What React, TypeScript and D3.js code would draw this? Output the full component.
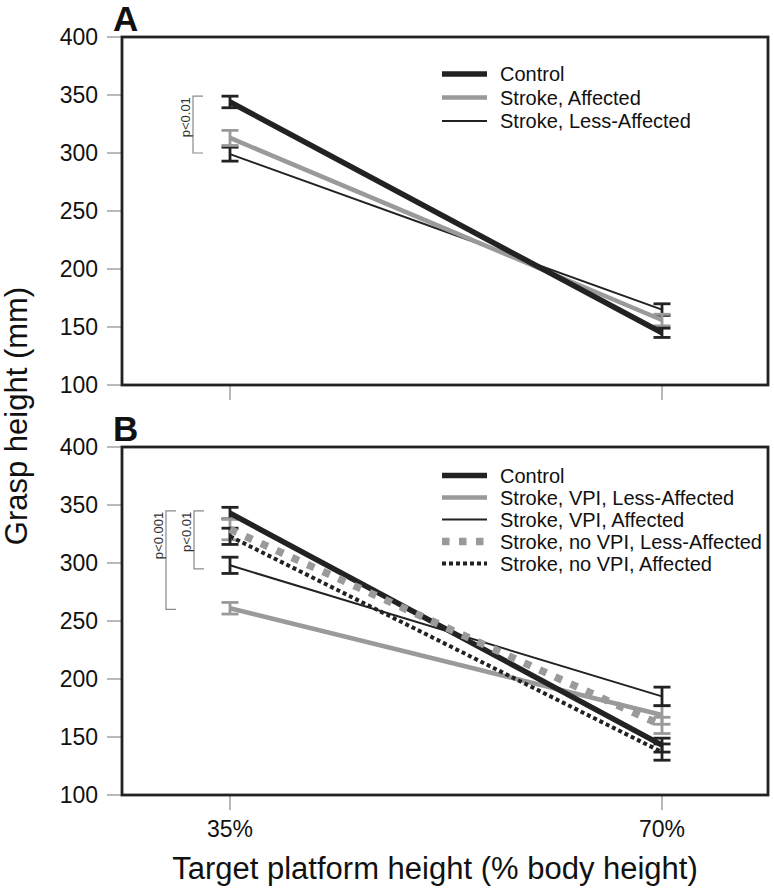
import React from "react";
import * as d3 from "d3";

// ---------- DATA ----------
const xCategories = ["35%", "70%"];
const yTicks = [100, 150, 200, 250, 300, 350, 400];

// Panel A
const aLabels = ["Control", "Stroke, Affected", "Stroke, Less-Affected"];
const aControl = [344, 145];
const aControlErr = [5, 4];
const aAffected = [313, 156];
const aAffectedErr = [6.5, 5];
const aLessAffected = [299, 165];
const aLessAffectedErr = [6, 5];

// Panel B
const bLabels = [
  "Control",
  "Stroke, VPI, Less-Affected",
  "Stroke, VPI, Affected",
  "Stroke, no VPI, Less-Affected",
  "Stroke, no VPI, Affected",
];
const bControl = [343, 143];
const bControlErr = [5, 6];
const bVpiLess = [261, 169];
const bVpiLessErr = [5, 8];
const bVpiAff = [298, 185];
const bVpiAffErr = [7, 8];
const bNoVpiLess = [329, 160];
const bNoVpiLessErr = [9, 7];
const bNoVpiAff = [323, 137];
const bNoVpiAffErr = [7, 7];

// significance brackets: [top value, bottom value, label]
const aBrackets: [number, number, string][] = [[349, 300, "p<0.01"]];
const bBrackets: [number, number, string][] = [
  [345, 260, "p<0.001"],
  [345, 295, "p<0.01"],
];

// ---------- STYLES ----------
const FONT = "'Liberation Sans', Arial, Helvetica, sans-serif";
const DARK = "#222";
const GREY = "#9a9a9a";
const TICK = "#8a8a8a";

type Style = { color: string; width: number; dash?: string; errColor: string };
const sControl: Style = { color: DARK, width: 5.5, errColor: DARK };
const sGrey: Style = { color: GREY, width: 4.5, errColor: GREY };
const sThin: Style = { color: DARK, width: 2, errColor: DARK };
const sGreyDot: Style = { color: GREY, width: 7.5, dash: "7.5 9.5", errColor: GREY };
const sBlackDot: Style = { color: DARK, width: 4, dash: "4 3", errColor: DARK };

type Series = { label: string; values: number[]; err: number[]; style: Style };

const panelASeries: Series[] = [
  { label: aLabels[2], values: aLessAffected, err: aLessAffectedErr, style: sThin },
  { label: aLabels[1], values: aAffected, err: aAffectedErr, style: sGrey },
  { label: aLabels[0], values: aControl, err: aControlErr, style: sControl },
];
const panelALegend: Series[] = [panelASeries[2], panelASeries[1], panelASeries[0]];

const panelBSeries: Series[] = [
  { label: bLabels[1], values: bVpiLess, err: bVpiLessErr, style: sGrey },
  { label: bLabels[2], values: bVpiAff, err: bVpiAffErr, style: sThin },
  { label: bLabels[0], values: bControl, err: bControlErr, style: sControl },
  { label: bLabels[3], values: bNoVpiLess, err: bNoVpiLessErr, style: sGreyDot },
  { label: bLabels[4], values: bNoVpiAff, err: bNoVpiAffErr, style: sBlackDot },
];
const panelBLegend: Series[] = [
  panelBSeries[2],
  panelBSeries[0],
  panelBSeries[1],
  panelBSeries[3],
  panelBSeries[4],
];

// ---------- LAYOUT ----------
const W = 774;
const H = 891;
const LEFT = 122;
const RIGHT = 768;

const x = d3.scalePoint<string>().domain(xCategories).range([230, 662]).padding(0);

type PanelProps = {
  top: number;
  bottom: number;
  letter: string;
  series: Series[];
  legend: Series[];
  legendTop: number;
  legendStep: number;
  brackets: [number, number, string][];
  bracketX: number[];
};

function Panel(p: PanelProps) {
  const y = d3.scaleLinear().domain([100, 400]).range([p.bottom, p.top]);
  const line = d3
    .line<number>()
    .x((_, i) => x(xCategories[i]) as number)
    .y((v) => y(v));
  const capW = 8.5;
  return (
    <g>
      <text
        x={113}
        y={p.top - 6}
        fontFamily={FONT}
        fontWeight="bold"
        fontSize={35}
        fill="#111"
      >
        {p.letter}
      </text>
      {/* y ticks */}
      {yTicks.map((t) => (
        <g key={t}>
          <line x1={107} x2={LEFT} y1={y(t)} y2={y(t)} stroke={TICK} strokeWidth={1.2} />
          <text
            x={98}
            y={y(t)}
            dy="0.36em"
            textAnchor="end"
            fontFamily={FONT}
            fontSize={23}
            fill="#111"
          >
            {t}
          </text>
        </g>
      ))}
      {/* x ticks */}
      {xCategories.map((c) => (
        <line
          key={c}
          x1={x(c)}
          x2={x(c)}
          y1={p.bottom}
          y2={p.bottom + 15}
          stroke={TICK}
          strokeWidth={1.2}
        />
      ))}
      {/* brackets */}
      {p.brackets.map(([a, b, lab], i) => {
        const bx = p.bracketX[i];
        return (
          <g key={i}>
            <path
              d={`M${bx + 10},${y(a)}H${bx}V${y(b)}H${bx + 10}`}
              fill="none"
              stroke={TICK}
              strokeWidth={1.2}
            />
            <text
              transform={`translate(${bx - 3},${y(a) + 1}) rotate(-90)`}
              textAnchor="end"
              fontFamily={FONT}
              fontSize={13}
              fill="#333"
            >
              {lab}
            </text>
          </g>
        );
      })}
      {/* error bars */}
      {p.series.map((s, si) =>
        s.values.map((v, i) => {
          const cx = x(xCategories[i]) as number;
          const y1 = y(v + s.err[i]);
          const y2 = y(v - s.err[i]);
          return (
            <g key={`e${si}-${i}`} stroke={s.style.errColor} strokeWidth={2.8}>
              <line x1={cx} x2={cx} y1={y1} y2={y2} />
              <line x1={cx - capW} x2={cx + capW} y1={y1} y2={y1} />
              <line x1={cx - capW} x2={cx + capW} y1={y2} y2={y2} />
            </g>
          );
        })
      )}
      {/* lines */}
      {p.series.map((s, si) => (
        <path
          key={`l${si}`}
          d={line(s.values) || ""}
          fill="none"
          stroke={s.style.color}
          strokeWidth={s.style.width}
          strokeDasharray={s.style.dash}
        />
      ))}
      {/* frame */}
      <rect
        x={LEFT}
        y={p.top}
        width={RIGHT - LEFT}
        height={p.bottom - p.top}
        fill="none"
        stroke={DARK}
        strokeWidth={2.8}
      />
      {/* legend */}
      {p.legend.map((s, i) => {
        const ly = p.legendTop + i * p.legendStep;
        return (
          <g key={`lg${i}`}>
            <line
              x1={442}
              x2={487}
              y1={ly}
              y2={ly}
              stroke={s.style.color}
              strokeWidth={s.style.width}
              strokeDasharray={s.style.dash}
            />
            <text
              x={500}
              y={ly}
              dy="0.36em"
              fontFamily={FONT}
              fontSize={20}
              fill="#111"
            >
              {s.label}
            </text>
          </g>
        );
      })}
    </g>
  );
}

export default function App() {
  return (
    <svg
      width={W}
      height={H}
      viewBox={`0 0 ${W} ${H}`}
      style={{ position: "absolute", left: 0, top: 0, background: "#fff" }}
    >
      <rect x={0} y={0} width={W} height={H} fill="#fff" />
      <Panel
        top={37}
        bottom={385}
        letter="A"
        series={panelASeries}
        legend={panelALegend}
        legendTop={74}
        legendStep={23.5}
        brackets={aBrackets}
        bracketX={[193]}
      />
      <Panel
        top={447}
        bottom={795}
        letter="B"
        series={panelBSeries}
        legend={panelBLegend}
        legendTop={475.5}
        legendStep={22}
        brackets={bBrackets}
        bracketX={[166, 194]}
      />
      {xCategories.map((c) => (
        <text
          key={c}
          x={x(c)}
          y={837}
          textAnchor="middle"
          fontFamily={FONT}
          fontSize={23}
          fill="#111"
        >
          {c}
        </text>
      ))}
      <text
        x={435}
        y={879}
        textAnchor="middle"
        fontFamily={FONT}
        fontSize={31}
        fill="#111"
      >
        Target platform height (% body height)
      </text>
      <text
        transform="translate(27,416) rotate(-90)"
        textAnchor="middle"
        fontFamily={FONT}
        fontSize={31}
        fill="#111"
      >
        Grasp height (mm)
      </text>
    </svg>
  );
}
